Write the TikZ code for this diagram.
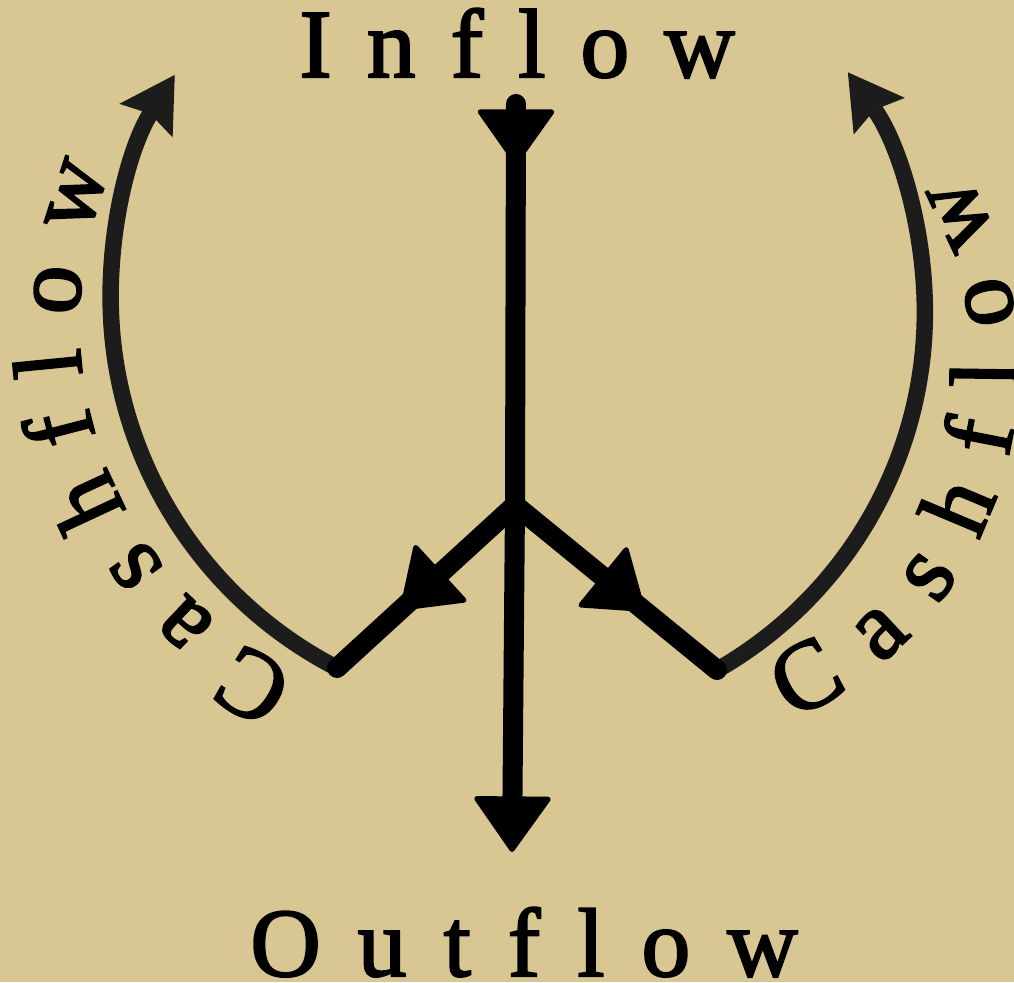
\documentclass[tikz,border=0pt]{standalone}
\usepackage{fontspec}
\setmainfont{Liberation Serif}
\usetikzlibrary{arrows.meta,decorations.markings,decorations.text,calc}
\definecolor{parchment}{RGB}{216,199,146}
\definecolor{loopgray}{RGB}{28,28,28}
\newcommand{\flowfont}{\fontsize{55.5}{60}\selectfont\addfontfeature{FakeBold=2.2}}
\begin{document}
\begin{tikzpicture}[
    x=0.2mm, y=0.2mm,
    flowtip/.tip={Triangle[length=1.15cm, width=1.6cm, round, line width=0.1cm]},
    looptip/.tip={Stealth[length=1.08cm, width=1.26cm, inset=0.16cm, line width=0pt]},
    flowline/.style={draw=black, line width=0.4cm, line cap=round},
    cashloop/.style={draw=loopgray, line width=0.33cm, -looptip},
    flowlabel/.style={font=\flowfont\addfontfeature{LetterSpace=#1}, inner sep=0pt, anchor=base west},
    cashtext/.style={decorate, decoration={text along path, text={|\flowfont|Cashflow}, text align={fit to path}}},
    midtip/.style={postaction={decorate}, decoration={markings, mark=at position #1 with {\arrow{flowtip}}}},
  ]
  \fill[parchment] (0,0) rectangle (1014,982);
  \useasboundingbox (0,0) rectangle (1014,982);

  \coordinate (top) at (516,878);
  \coordinate (hub) at (515,477);
  \coordinate (bottom) at (512,130);
  \coordinate (lend) at (337,314);
  \coordinate (rend) at (717,312);
  \coordinate (lc) at (471,659);
  \coordinate (rc) at (633,613);

  \node[flowlabel=36] (inflow) at (299,905) {Inflow};
  \node[flowlabel=38] (outflow) at (250,6) {Outflow};

  \draw[cashloop] (lend) arc[start angle=242.8, end angle=147.8, radius=8.34cm];
  \draw[cashloop] (rend) arc[start angle=-60.3, end angle=35.6, radius=8.24cm];
  \path[cashtext] ($(lc)+(243.7:7.84cm)$) arc[start angle=243.7, end angle=157, radius=7.84cm];
  \path[cashtext] ($(rc)+(-65.5:7.7cm)$) arc[start angle=-65.5, end angle=30.5, radius=7.7cm];

  \draw[flowline, midtip=3.1cm] (hub) -- (lend);
  \draw[flowline, midtip=3.35cm] (hub) -- (rend);
  \draw[flowline, -flowtip, midtip=1.22cm] (top) -- (hub) -- (bottom);
\end{tikzpicture}
\end{document}
